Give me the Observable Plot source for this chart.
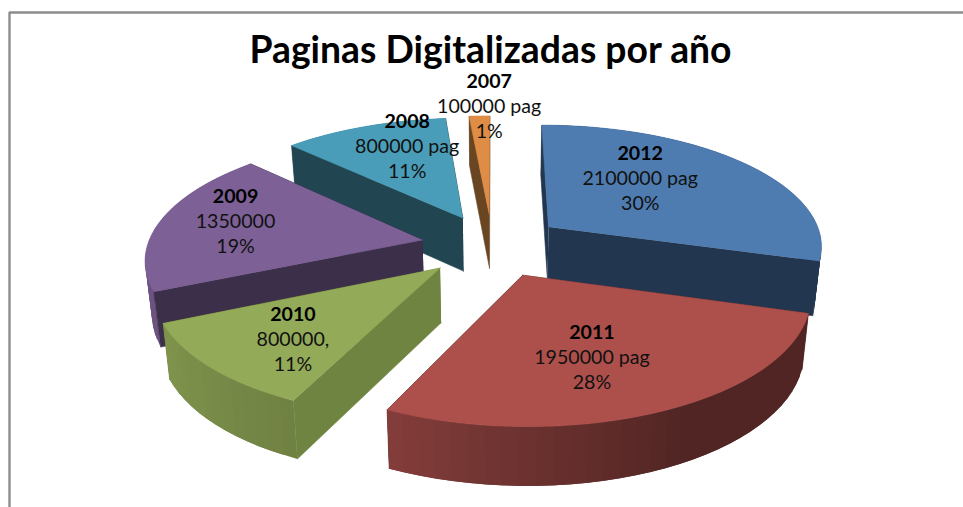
<!DOCTYPE html>
<html><head><meta charset="utf-8">
<script src="https://cdn.jsdelivr.net/npm/d3@7"></script>
<script src="https://cdn.jsdelivr.net/npm/@observablehq/plot@0.6"></script>
<style>html,body{margin:0;padding:0;background:#fff;overflow:hidden}svg{display:block}</style>
</head><body><div id="c"></div>
<script>
// Data, in drawing order round the pie (clockwise from the top)
const years = ["2012","2011","2010","2009","2008","2007"];
const pages = [2100000,1950000,800000,1350000,800000,100000];
const valueLabels = ["2100000 pag","1950000 pag","800000,","1350000","800000 pag","100000 pag"];
const percentLabels = ["30%","28%","11%","19%","11%","1%"];
const titleText = "Paginas Digitalizadas por año";

// Style
const topColors  = ["#4f7cb0","#ad504c","#93aa58","#7d6096","#4a9db8","#de8c46"];
const faceColors = ["#223650","#4f2322","#6f8440","#3b2f49","#224552","#6a4522"];
const paintOrder = [5,4,0,3,2,1];
const labelNudge = [[-29,-9],[-9,5],[-15,15],[-29,-6],[6,-14],[6,-46]];

// Projection of the tilted, exploded pie
const cx=492, cy=245, A=275, B=121, k=0.14, explode=0.26, H=54, baseShrink=0.98;
const persp = Y => 1/(1-k*Y);
const projTop = ([X,Y]) => [cx+X*A*persp(Y), cy+Y*B*persp(Y)];
const projBase = ([X,Y]) => { const [x,y]=projTop([X,Y]); return [cx+(x-cx)*baseShrink, y+H*Math.sqrt(persp(Y))]; };
const rad = d => d*Math.PI/180;
const total = d3.sum(pages);
let acc = 0;
const slices = pages.map((v,i)=>{
  const a0=acc, a1=acc+v/total*360; acc=a1;
  const m=(a0+a1)/2;
  const c=[explode*Math.sin(rad(m)), -explode*Math.cos(rad(m))];
  const rim=a=>[c[0]+Math.sin(rad(a)), c[1]-Math.cos(rad(a))];
  return {i,a0,a1,m,c,rim};
});
const wallShade = d3.scaleLinear().domain([0,150,205,246,300,360]).range([.46,.46,.76,.87,.86,.7]);
const dim = (col,f)=>{const c=d3.rgb(col);return d3.rgb(c.r*f,c.g*f,c.b*f).formatHex();};

const marks=[];
const poly=(pts,fill,sw=0.6)=>marks.push(Plot.line(pts,{x:d=>d[0],y:d=>d[1],fill,stroke:sw?fill:"none",strokeWidth:sw,curve:"linear"}));
for(const idx of paintOrder){
  const s=slices[idx];
  const n=Math.max(2,Math.ceil((s.a1-s.a0)/3));
  const angles=d3.range(n+1).map(j=>s.a0+(s.a1-s.a0)*j/n);
  const face=a=>{const r=s.rim(a);poly([projTop(s.c),projTop(r),projBase(r),projBase(s.c)],faceColors[idx]);};
  // a cut face looks at the viewer when its outward normal points to the front
  const faces=[{a:s.a0,normal:s.a0-90},{a:s.a1,normal:s.a1+90}];
  const front=f=>-Math.cos(rad(f.normal))>0.01;
  faces.filter(f=>!front(f)).forEach(f=>face(f.a));
  // outer wall, in shaded strips that overlap the next one so no seams show
  for(let j=0;j<n;j++){
    const r0=s.rim(angles[j]), r1=s.rim(angles[Math.min(n,j+2)]);
    poly([projTop(r0),projTop(r1),projBase(r1),projBase(r0)],dim(topColors[idx],wallShade((angles[j]+angles[j+1])/2)),0);
  }
  faces.filter(front).forEach(f=>face(f.a));
  // top surface
  poly([projTop(s.c),...d3.range(0,(n*4)+1).map(j=>projTop(s.rim(s.a0+(s.a1-s.a0)*j/(n*4))))],topColors[idx]);
}
// frame
marks.push(Plot.ruleX([9],{y1:()=>12,y2:()=>507,stroke:"#8c8c8c",strokeWidth:2.4}));
marks.push(Plot.ruleY([12],{x1:()=>9,x2:()=>963,stroke:"#8c8c8c",strokeWidth:2.4}));
// title
marks.push(Plot.text([titleText],{x:()=>490,y:()=>51,text:d=>d,fontFamily:"Lato",fontWeight:700,fontSize:37.3,fill:"#000"}));
// labels
const labels=slices.map(s=>{
  const p=projTop([s.c[0]+0.6*Math.sin(rad(s.m)), s.c[1]-0.6*Math.cos(rad(s.m))]);
  return {x:p[0]+labelNudge[s.i][0], y:p[1]+labelNudge[s.i][1], year:years[s.i], value:valueLabels[s.i], pct:percentLabels[s.i]};
});
const base={x:"x",y:"y",fontFamily:"Lato",fontSize:19.6,fill:"#111"};
marks.push(Plot.text(labels,{...base,text:"year",dy:-25,fontWeight:700,fill:"#000"}));
marks.push(Plot.text(labels,{...base,text:"value"}));
marks.push(Plot.text(labels,{...base,text:"pct",dy:25}));

const chart=Plot.plot({width:963,height:507,margin:0,
  x:{domain:[0,963],range:[0,963],axis:null},
  y:{domain:[0,507],range:[0,507],axis:null},
  style:{background:"#fff"},
  marks});
document.getElementById("c").append(chart);
</script></body></html>
